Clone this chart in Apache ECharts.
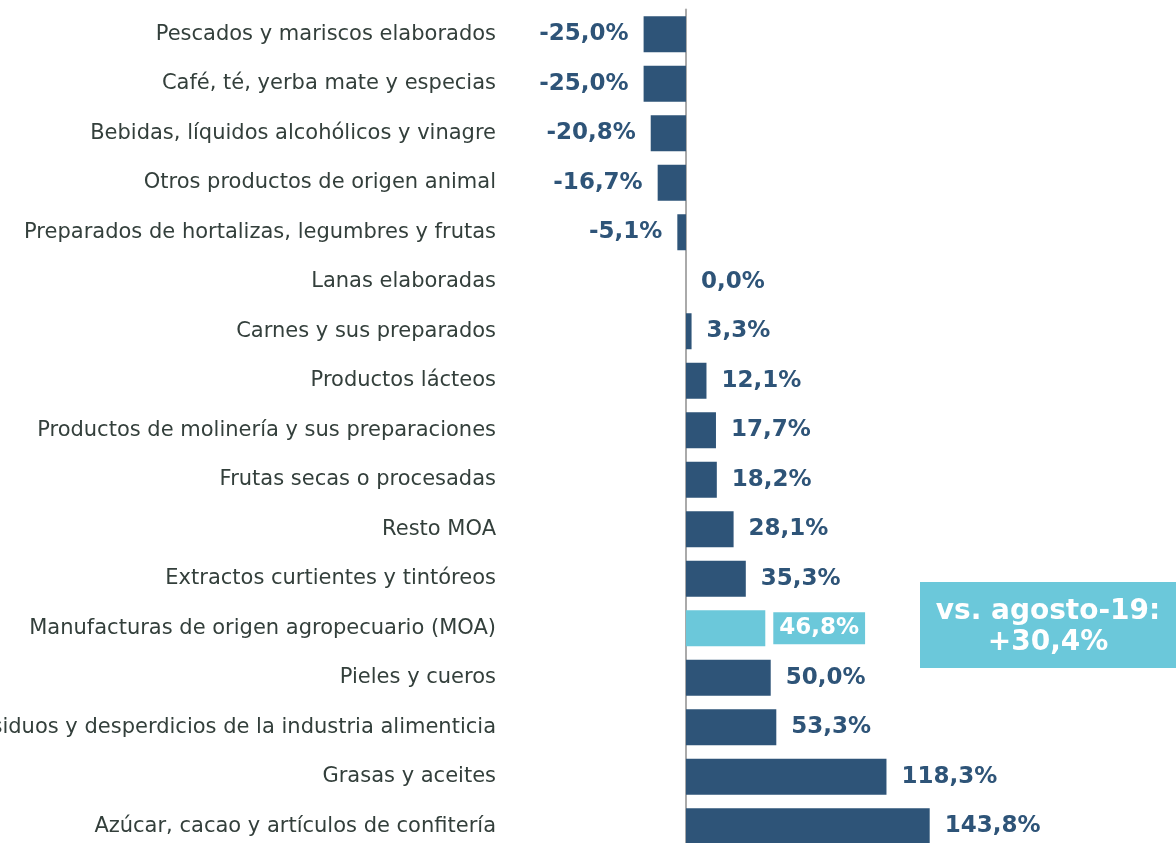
<!DOCTYPE html>
<html>
<head>
<meta charset="utf-8">
<script src="https://cdn.jsdelivr.net/npm/echarts@6/dist/echarts.min.js"></script>
<style>
  html, body { margin: 0; padding: 0; background: #fff; overflow: hidden; }
  #chartArea { width: 1176px; height: 860px; }
</style>
</head>
<body>
<div id="chartArea"></div>
<script>
// categorias, de arriba hacia abajo
var categories = [
  'Pescados y mariscos elaborados',
  'Café, té, yerba mate y especias',
  'Bebidas, líquidos alcohólicos y vinagre',
  'Otros productos de origen animal',
  'Preparados de hortalizas, legumbres y frutas',
  'Lanas elaboradas',
  'Carnes y sus preparados',
  'Productos lácteos',
  'Productos de molinería y sus preparaciones',
  'Frutas secas o procesadas',
  'Resto MOA',
  'Extractos curtientes y tintóreos',
  'Manufacturas de origen agropecuario (MOA)',
  'Pieles y cueros',
  'Residuos y desperdicios de la industria alimenticia',
  'Grasas y aceites',
  'Azúcar, cacao y artículos de confitería'
];
var variacion = [-25.0, -25.0, -20.8, -16.7, -5.1, 0.0, 3.3, 12.1, 17.7, 18.2, 28.1, 35.3, 46.8, 50.0, 53.3, 118.3, 143.8];
var totalIndex = 12;  // la fila MOA va resaltada
var notaTotal = ['vs. agosto-19:', '+30,4%'];

var dark = '#2e5478';
var light = '#6bc8da';

function fmt(v) {
  return v.toFixed(1).replace('.', ',') + '%';
}

var barData = variacion.map(function (v, i) {
  var item = {
    value: v,
    itemStyle: { color: i === totalIndex ? light : dark },
    label: {
      position: v < 0 ? 'left' : 'right'
    }
  };
  if (i === totalIndex) {
    item.label.color = '#fff';
    item.label.backgroundColor = light;
    item.label.padding = [5, 6, 4, 6];
    item.label.distance = 8;
  }
  return item;
});

var myChart = echarts.init(document.getElementById('chartArea'));

myChart.setOption({
  backgroundColor: '#fff',
  animation: false,
  grid: {
    left: 643.6,
    width: 296.6,
    top: 9.5,
    height: 841.5,
    containLabel: false,
    outerBoundsMode: 'none'
  },
  xAxis: {
    type: 'value',
    min: -25,
    max: 150,
    show: false
  },
  yAxis: {
    type: 'category',
    data: categories,
    inverse: true,
    position: 'left',
    offset: -42.4,
    axisLine: { show: true, onZero: false, lineStyle: { color: '#aaaaaa', width: 2 } },
    axisTick: { show: false },
    axisLabel: {
      margin: 190,
      fontFamily: 'DejaVu Sans',
      fontSize: 21,
      color: '#333f3b'
    },
    splitLine: { show: false }
  },
  series: [{
    type: 'bar',
    data: barData,
    barWidth: 36,
    label: {
      show: true,
      distance: 15,
      fontFamily: 'DejaVu Sans',
      fontWeight: 'bold',
      fontSize: 23,
      color: dark,
      formatter: function (p) { return fmt(p.value); }
    }
  }],
  graphic: [{
    type: 'rect',
    left: 920,
    top: 582,
    shape: { width: 256, height: 86 },
    style: { fill: light }
  }, {
    type: 'text',
    x: 1048,
    y: 596,
    z: 10,
    style: {
      text: notaTotal.join('\n'),
      fill: '#fff',
      font: 'bold 28px "DejaVu Sans"',
      align: 'center',
      verticalAlign: 'top',
      lineHeight: 31
    }
  }]
});
</script>
</body>
</html>
